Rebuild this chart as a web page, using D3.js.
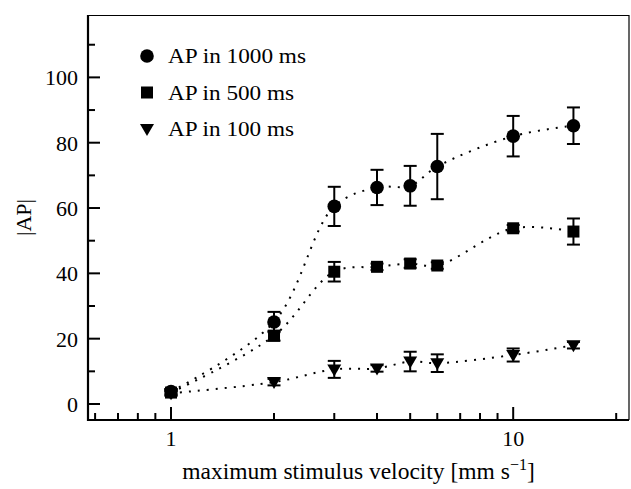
<!DOCTYPE html>
<html>
<head>
<meta charset="utf-8">
<script src="https://cdn.jsdelivr.net/npm/d3@7"></script>
<style>
  body { margin: 0; background: #fff; }
  svg { display: block; font-family: "Liberation Serif", "DejaVu Serif", serif; }
</style>
</head>
<body>
<svg width="631" height="489"></svg>
<script>
// stimulus velocities (mm/s)
const velocity = [1, 2, 3, 4, 5, 6, 10, 15];

// number of APs, means and error bars
const ap1000 = [3.8, 25.1, 60.5, 66.3, 66.8, 72.7, 82.0, 85.2];
const err1000 = [0.8, 3.1, 6.0, 5.4, 6.1, 10.0, 6.2, 5.6];
const ap500 = [3.5, 20.9, 40.5, 42.0, 43.0, 42.4, 53.8, 52.8];
const err500 = [0.8, 1.5, 3.0, 1.0, 1.3, 1.0, 1.0, 4.0];
const ap100 = [3.3, 6.7, 10.6, 10.9, 13.0, 12.5, 15.0, 18.0];
const err100 = [0.8, 1.0, 2.6, 1.0, 3.0, 2.7, 2.0, 1.0];

const seriesNames = ["AP in 1000 ms", "AP in 500 ms", "AP in 100 ms"];
const seriesShapes = ["circle", "square", "triangle"];

const yMajor = [0, 20, 40, 60, 80, 100];
const yMinor = [10, 30, 50, 70, 90, 110];
const xMajor = [1, 10];
const xMinor = [0.6, 0.7, 0.8, 0.9, 2, 3, 4, 5, 6, 7, 8, 9, 20];

const mLeft = 88, mRight = 629, mTop = 15, mBottom = 420;

const svg = d3.select("svg");

const x = d3.scaleLog().domain([0.572, 21.8]).range([mLeft, mRight]);
const y = d3.scaleLinear().domain([-4.9, 119.1]).range([mBottom, mTop]);

// frame: top and right thin
svg.append("line").attr("x1", mLeft).attr("x2", mRight).attr("y1", mTop + 0.5).attr("y2", mTop + 0.5)
    .attr("stroke", "#000").attr("stroke-width", 1.2);
svg.append("line").attr("x1", mRight).attr("x2", mRight).attr("y1", mTop).attr("y2", mBottom)
    .attr("stroke", "#000").attr("stroke-width", 1.2);

// left and bottom axes with inward ticks
svg.append("line").attr("x1", mLeft).attr("x2", mLeft).attr("y1", mTop).attr("y2", mBottom + 1)
    .attr("stroke", "#000").attr("stroke-width", 2.2);
svg.append("line").attr("x1", mLeft - 1).attr("x2", mRight).attr("y1", mBottom).attr("y2", mBottom)
    .attr("stroke", "#000").attr("stroke-width", 2.2);

svg.append("g").selectAll("line").data(yMajor).join("line")
    .attr("x1", mLeft).attr("x2", mLeft + 12)
    .attr("y1", d => y(d)).attr("y2", d => y(d))
    .attr("stroke", "#000").attr("stroke-width", 2);
svg.append("g").selectAll("line").data(yMinor).join("line")
    .attr("x1", mLeft).attr("x2", mLeft + 7)
    .attr("y1", d => y(d)).attr("y2", d => y(d))
    .attr("stroke", "#000").attr("stroke-width", 2);
svg.append("g").selectAll("text").data(yMajor).join("text")
    .attr("x", mLeft - 10).attr("y", d => y(d)).attr("dy", "0.36em")
    .attr("text-anchor", "end").attr("font-size", 22)
    .text(d => d);

svg.append("g").selectAll("line").data(xMajor).join("line")
    .attr("x1", d => x(d)).attr("x2", d => x(d))
    .attr("y1", mBottom).attr("y2", mBottom - 13)
    .attr("stroke", "#000").attr("stroke-width", 2);
svg.append("g").selectAll("line").data(xMinor).join("line")
    .attr("x1", d => x(d)).attr("x2", d => x(d))
    .attr("y1", mBottom).attr("y2", mBottom - 7)
    .attr("stroke", "#000").attr("stroke-width", 2);
svg.append("g").selectAll("text").data(xMajor).join("text")
    .attr("x", d => x(d)).attr("y", 446)
    .attr("text-anchor", "middle").attr("font-size", 22)
    .text(d => d);

// axis titles
const xt = svg.append("text")
    .attr("x", (mLeft + mRight) / 2).attr("y", 479)
    .attr("text-anchor", "middle").attr("font-size", 23.5);
xt.append("tspan").text("maximum stimulus velocity [mm s");
xt.append("tspan").attr("dy", -9).attr("font-size", 16).text("\u22121");
xt.append("tspan").attr("dy", 9).text("]");

svg.append("text")
    .attr("transform", `translate(31,${(mTop + mBottom) / 2}) rotate(-90)`)
    .attr("text-anchor", "middle").attr("font-size", 22)
    .text("|AP|");

// markers
function marker(g, shape) {
    if (shape === "circle") {
        g.append("circle").attr("r", 6.8).attr("fill", "#000");
    } else if (shape === "square") {
        g.append("rect").attr("x", -6).attr("y", -6).attr("width", 12).attr("height", 12).attr("fill", "#000");
    } else {
        g.append("path").attr("d", "M-7,-5L7,-5L0,7Z").attr("fill", "#000");
    }
}

const series = [
    { mean: ap1000, err: err1000 },
    { mean: ap500, err: err500 },
    { mean: ap100, err: err100 }
];

// smooth spline through the means
const line = d3.line()
    .x(d => x(d[0]))
    .y(d => y(d[1]))
    .curve(d3.curveCatmullRom.alpha(0.5));

series.forEach((s, i) => {
    const pts = velocity.map((v, j) => [v, s.mean[j], s.err[j]]);
    svg.append("path")
        .attr("d", line(pts))
        .attr("fill", "none")
        .attr("stroke", "#000")
        .attr("stroke-width", 2)
        .attr("stroke-dasharray", "2,7");

    const eb = svg.append("g").attr("stroke", "#000").attr("stroke-width", 2);
    pts.forEach(p => {
        const cx = x(p[0]);
        eb.append("line").attr("x1", cx).attr("x2", cx)
            .attr("y1", y(p[1] - p[2])).attr("y2", y(p[1] + p[2]));
        eb.append("line").attr("x1", cx - 6.5).attr("x2", cx + 6.5)
            .attr("y1", y(p[1] - p[2])).attr("y2", y(p[1] - p[2]));
        eb.append("line").attr("x1", cx - 6.5).attr("x2", cx + 6.5)
            .attr("y1", y(p[1] + p[2])).attr("y2", y(p[1] + p[2]));
    });

    svg.append("g").selectAll("g").data(pts).join("g")
        .attr("transform", d => `translate(${x(d[0])},${y(d[1])})`)
        .each(function() { marker(d3.select(this), seriesShapes[i]); });
});

// legend
seriesNames.forEach((name, i) => {
    const ly = 56 + i * 36.5;
    const g = svg.append("g").attr("transform", `translate(147,${ly})`);
    marker(g, seriesShapes[i]);
    svg.append("text")
        .attr("x", 168).attr("y", ly + 7)
        .attr("font-size", 22)
        .attr("textLength", i === 0 ? 138 : 126)
        .attr("lengthAdjust", "spacingAndGlyphs")
        .text(name);
});
</script>
</body>
</html>
